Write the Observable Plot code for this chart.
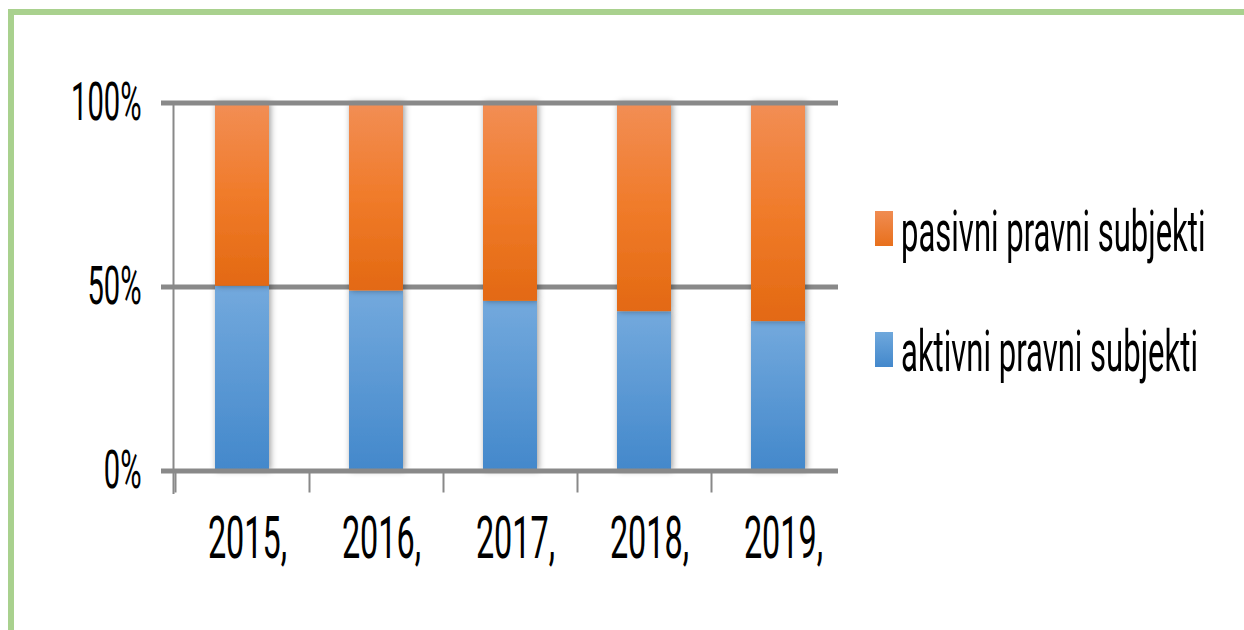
<!DOCTYPE html>
<html><head><meta charset="utf-8">
<script src="https://cdn.jsdelivr.net/npm/d3@7"></script>
<script src="https://cdn.jsdelivr.net/npm/@observablehq/plot@0.6"></script>
<style>
html,body{margin:0;padding:0;background:#fff;}
body{width:1244px;height:630px;overflow:hidden;position:relative;font-family:Roboto,sans-serif;}
#frame{position:absolute;left:8px;top:9px;width:1400px;height:800px;border-left:6px solid #A9D18E;border-top:6px solid #A9D18E;box-sizing:border-box;}
#chart{position:absolute;left:0;top:0;}
.sw{position:absolute;width:18px;height:35px;}
.lt{position:absolute;font-size:58px;line-height:58px;color:#000;white-space:nowrap;transform:scaleX(0.535);transform-origin:0 50%;}
</style></head><body>
<div id="frame"></div>
<div id="chart"></div>
<div id="legend"></div>
<script>
// ---- data ----
const years = ["2015,", "2016,", "2017,", "2018,", "2019,"];
const aktivni = [0.502, 0.489, 0.461, 0.433, 0.406];
const pasivni = [0.498, 0.511, 0.539, 0.567, 0.594];
const legendNames = ["pasivni pravni subjekti", "aktivni pravni subjekti"];
const yTicks = [0, 0.5, 1];

const rows = years.map((year, i) => ({year, aktivni: aktivni[i], pasivni: pasivni[i]}));
const K = 0.54; // horizontal text compression

const chart = Plot.plot({
  width: 1244, height: 630,
  marginLeft: 173, marginRight: 406, marginTop: 102.5, marginBottom: 159.5,
  x: {domain: years, range: [174, 845], paddingInner: 0.6, paddingOuter: 0.3, axis: null, label: null},
  y: {domain: [0, 1], axis: null, label: null},
  style: {background: "transparent", overflow: "visible", fontFamily: "Roboto, sans-serif"},
  marks: [
    Plot.ruleY([0.5], {stroke: "#898989", strokeWidth: 5, insetLeft: -12}),
    Plot.barY(rows, {x: "year", y1: 0, y2: "aktivni", fill: "url(#gBlue)"}),
    Plot.barY(rows, {x: "year", y1: "aktivni", y2: d => d.aktivni + d.pasivni, fill: "url(#gOrange)"}),
    Plot.ruleY([0, 1], {stroke: "#898989", strokeWidth: 5, insetLeft: -12}),
    Plot.frame({anchor: "left", stroke: "#898989", strokeWidth: 2, insetBottom: -22}),
    Plot.ruleX(years, {x: d => d, dx: -67, y1: 0, y2: 0, insetBottom: -22, stroke: "#898989", strokeWidth: 2}),
    Plot.axisY(yTicks, {tickSize: 0, tickPadding: 32, tickFormat: d3.format(".0%"), fontSize: 54, fill: "#000", label: null}),
    Plot.axisX({tickSize: 0, tickPadding: 44, fontSize: 60, fill: "#000", dx: 5, label: null})
  ]
});

const svg = d3.select(chart);
const defs = svg.insert("defs", ":first-child");
const gb = defs.append("linearGradient").attr("id", "gBlue").attr("x1", 0).attr("y1", 0).attr("x2", 0).attr("y2", 1);
gb.append("stop").attr("offset", 0).attr("stop-color", "#73A9DD");
gb.append("stop").attr("offset", 1).attr("stop-color", "#4388CB");
const go = defs.append("linearGradient").attr("id", "gOrange").attr("x1", 0).attr("y1", 0).attr("x2", 0).attr("y2", 1);
go.append("stop").attr("offset", 0).attr("stop-color", "#F28E55");
go.append("stop").attr("offset", 0.5).attr("stop-color", "#F07B2A");
go.append("stop").attr("offset", 1).attr("stop-color", "#E36912");
const f = defs.append("filter").attr("id", "shadow").attr("x", "-10%").attr("y", "-5%").attr("width", "120%").attr("height", "110%");
f.append("feDropShadow").attr("dx", 1.5).attr("dy", 0).attr("stdDeviation", 3).attr("flood-color", "#000").attr("flood-opacity", 0.4);
svg.selectAll('g[aria-label="bar"]').attr("filter", "url(#shadow)");

chart.querySelectorAll("text").forEach(t => {
  const x = +t.getAttribute("x") || 0;
  const tr = t.getAttribute("transform") || "";
  t.setAttribute("transform", `${tr} translate(${x},0) scale(${K},1) translate(${-x},0)`);
});
document.getElementById("chart").appendChild(chart);

// legend
const legend = document.getElementById("legend");
const swatchFills = ["linear-gradient(#F08C52,#E8701C)", "linear-gradient(#6FA8DC,#4388CC)"];
legendNames.forEach((name, i) => {
  const sw = document.createElement("div");
  sw.className = "sw";
  sw.style.left = "875px";
  sw.style.top = (211 + i * 121) + "px";
  sw.style.background = swatchFills[i];
  legend.appendChild(sw);
  const t = document.createElement("div");
  t.className = "lt";
  t.style.left = "901px";
  t.style.top = (202 + i * 120) + "px";
  t.textContent = name;
  legend.appendChild(t);
});
</script>
</body></html>
